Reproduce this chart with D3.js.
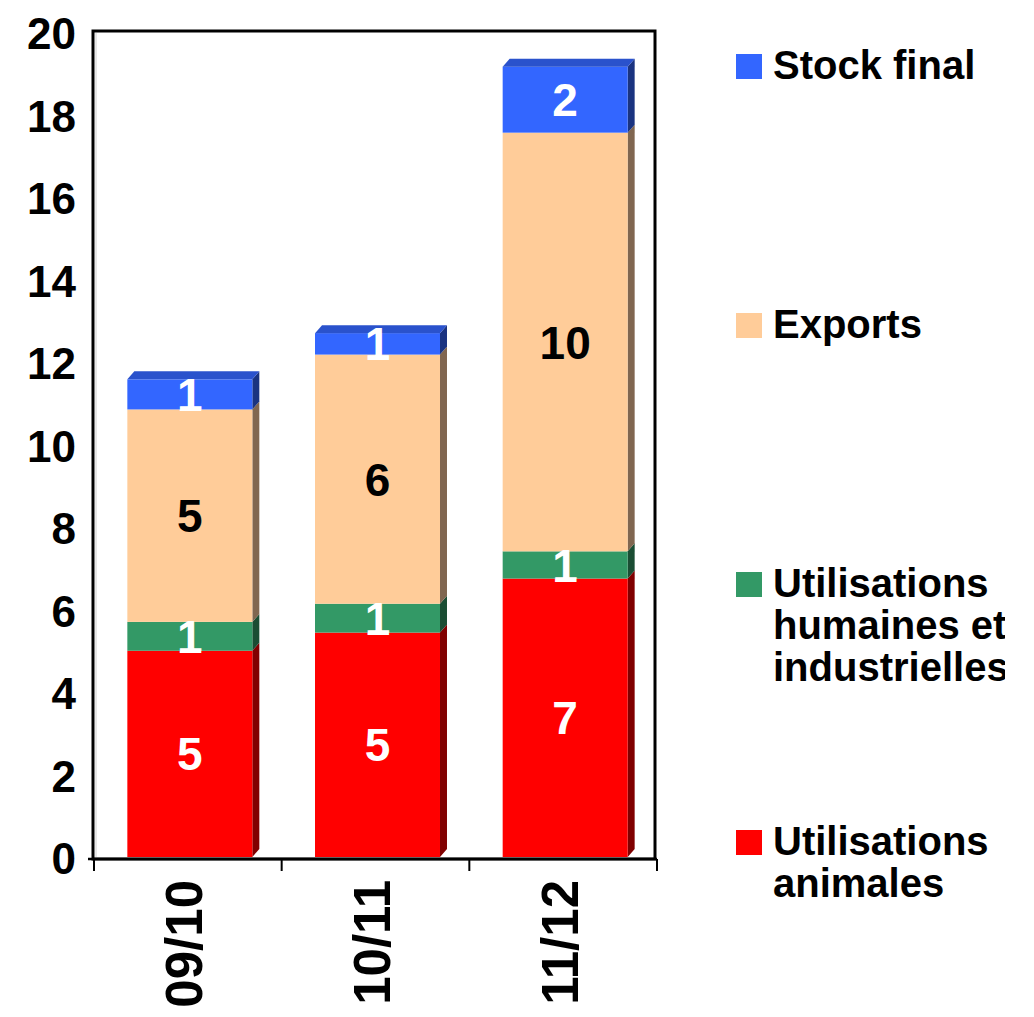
<!DOCTYPE html>
<html>
<head>
<meta charset="utf-8">
<script src="https://cdn.jsdelivr.net/npm/d3@7"></script>
<style>
  html, body { margin: 0; padding: 0; background: #ffffff; }
  svg { display: block; font-family: "Liberation Sans", Arial, sans-serif; font-weight: bold; }
</style>
</head>
<body>
<svg id="chart" width="1034" height="1017"></svg>
<script>
// ---- data ----
const categories = ["09/10", "10/11", "11/12"];
const seriesNames = ["Utilisations animales", "Utilisations humaines et industrielles", "Exports", "Stock final"];
const utilisationsAnimales = [5.0, 5.44, 6.75];
const utilisationsHumaines = [0.70, 0.70, 0.66];
const exportsValues = [5.15, 6.04, 10.15];
const stockFinal = [0.73, 0.52, 1.6];
const yTicks = [0, 2, 4, 6, 8, 10, 12, 14, 16, 18, 20];

// ---- style ----
const frontColors = ["#ff0000", "#339966", "#ffcc99", "#3366ff"];
const sideColors  = ["#800000", "#1a4d33", "#806650", "#1a3380"];
const topColors   = ["#cc0000", "#297a52", "#e6b88a", "#2a52cc"];
const labelColors = ["#ffffff", "#ffffff", "#000000", "#ffffff"];
const legendLines = [["Utilisations", "animales"], ["Utilisations", "humaines et", "industrielles"], ["Exports"], ["Stock final"]];

const seriesValues = [utilisationsAnimales, utilisationsHumaines, exportsValues, stockFinal];
const rows = categories.map((c, i) => {
  const r = { cat: c };
  seriesNames.forEach((s, k) => r[s] = seriesValues[k][i]);
  return r;
});
const stacked = d3.stack().keys(seriesNames)(rows);

const svg = d3.select("#chart");

const plot = { left: 94, right: 657, top: 32, bottom: 857 };
const x = d3.scaleBand().domain(categories).range([plot.left, plot.right]).paddingInner(0.334).paddingOuter(0.167);
const y = d3.scaleLinear().domain([0, 20]).range([plot.bottom, plot.top]);
const depthX = 7, depthY = -8, barShift = 2;

// frame
svg.append("rect").attr("x", 93).attr("y", 31).attr("width", 562).attr("height", 828)
  .attr("fill", "none").attr("stroke", "#000").attr("stroke-width", 3);
svg.append("line").attr("x1", 96).attr("x2", 96).attr("y1", 33).attr("y2", 857)
  .attr("stroke", "#d0d0d0").attr("stroke-width", 1);

// y axis labels
const yAxis = d3.axisLeft(y).tickValues(yTicks).tickSize(0).tickPadding(0).tickFormat(d3.format("d"));
const gy = svg.append("g").attr("transform", "translate(76,1)").call(yAxis);
gy.select(".domain").remove();
gy.selectAll("text").attr("font-size", 44).attr("font-weight", "bold")
  .attr("font-family", "'Liberation Sans', Arial, sans-serif").attr("fill", "#000").attr("dy", "0.36em");

// x axis line + boundary ticks
const step = x.step();
const boundaries = d3.range(categories.length + 1).map(i => x(categories[0]) - step * x.paddingOuter() + i * step);
svg.append("line").attr("x1", 88).attr("x2", 657).attr("y1", 859).attr("y2", 859)
  .attr("stroke", "#000").attr("stroke-width", 2.5);
svg.selectAll(".btick").data(boundaries).join("line")
  .attr("x1", d => d).attr("x2", d => d).attr("y1", 859).attr("y2", 871)
  .attr("stroke", "#000").attr("stroke-width", 2);

// category labels (rotated)
svg.selectAll(".cat").data(categories).join("text")
  .attr("transform", d => `translate(${x(d) + x.bandwidth() / 2 - 4},880) rotate(-90)`)
  .attr("text-anchor", "end").attr("dy", "0.36em")
  .attr("font-size", 51).attr("fill", "#000").text(d => d);

// bars
const bw = x.bandwidth();
stacked.forEach((layer, k) => {
  const g = svg.append("g");
  layer.forEach((seg, i) => {
    const x0 = x(categories[i]) + barShift, x1 = x0 + bw;
    const yt = y(seg[1]), yb = y(seg[0]);
    g.append("path")
      .attr("d", `M${x1},${yt} L${x1 + depthX},${yt + depthY} L${x1 + depthX},${yb + depthY} L${x1},${yb} Z`)
      .attr("fill", sideColors[k]);
    g.append("rect").attr("x", x0).attr("y", yt).attr("width", bw).attr("height", yb - yt)
      .attr("fill", frontColors[k]);
    if (k === stacked.length - 1) {
      g.append("path")
        .attr("d", `M${x0},${yt} L${x0 + depthX},${yt + depthY} L${x1 + depthX},${yt + depthY} L${x1},${yt} Z`)
        .attr("fill", topColors[k]);
    }
  });
});

// data labels
stacked.forEach((layer, k) => {
  svg.append("g").selectAll("text").data(layer).join("text")
    .attr("x", (d, i) => x(categories[i]) + barShift + bw / 2)
    .attr("y", d => (y(d[0]) + y(d[1])) / 2)
    .attr("dy", "0.36em").attr("text-anchor", "middle")
    .attr("font-size", 46).attr("fill", labelColors[k])
    .text(d => d3.format(".0f")(d[1] - d[0]));
});

// legend (clipped at the right, as in the original)
svg.append("clipPath").attr("id", "legclip").append("rect")
  .attr("x", 700).attr("y", 0).attr("width", 305).attr("height", 1017);
const leg = svg.append("g").attr("clip-path", "url(#legclip)");
const legendRows = [
  { k: 3, base: 79 },
  { k: 2, base: 338 },
  { k: 1, base: 597 },
  { k: 0, base: 855 }
];
legendRows.forEach(r => {
  leg.append("rect").attr("x", 736).attr("y", r.base - 25).attr("width", 26).attr("height", 25)
    .attr("fill", frontColors[r.k]);
  const t = leg.append("text").attr("x", 773).attr("y", r.base).attr("font-size", 40).attr("fill", "#000");
  legendLines[r.k].forEach((line, j) => {
    t.append("tspan").attr("x", 773).attr("y", r.base + j * 42).text(line);
  });
});
</script>
</body>
</html>
